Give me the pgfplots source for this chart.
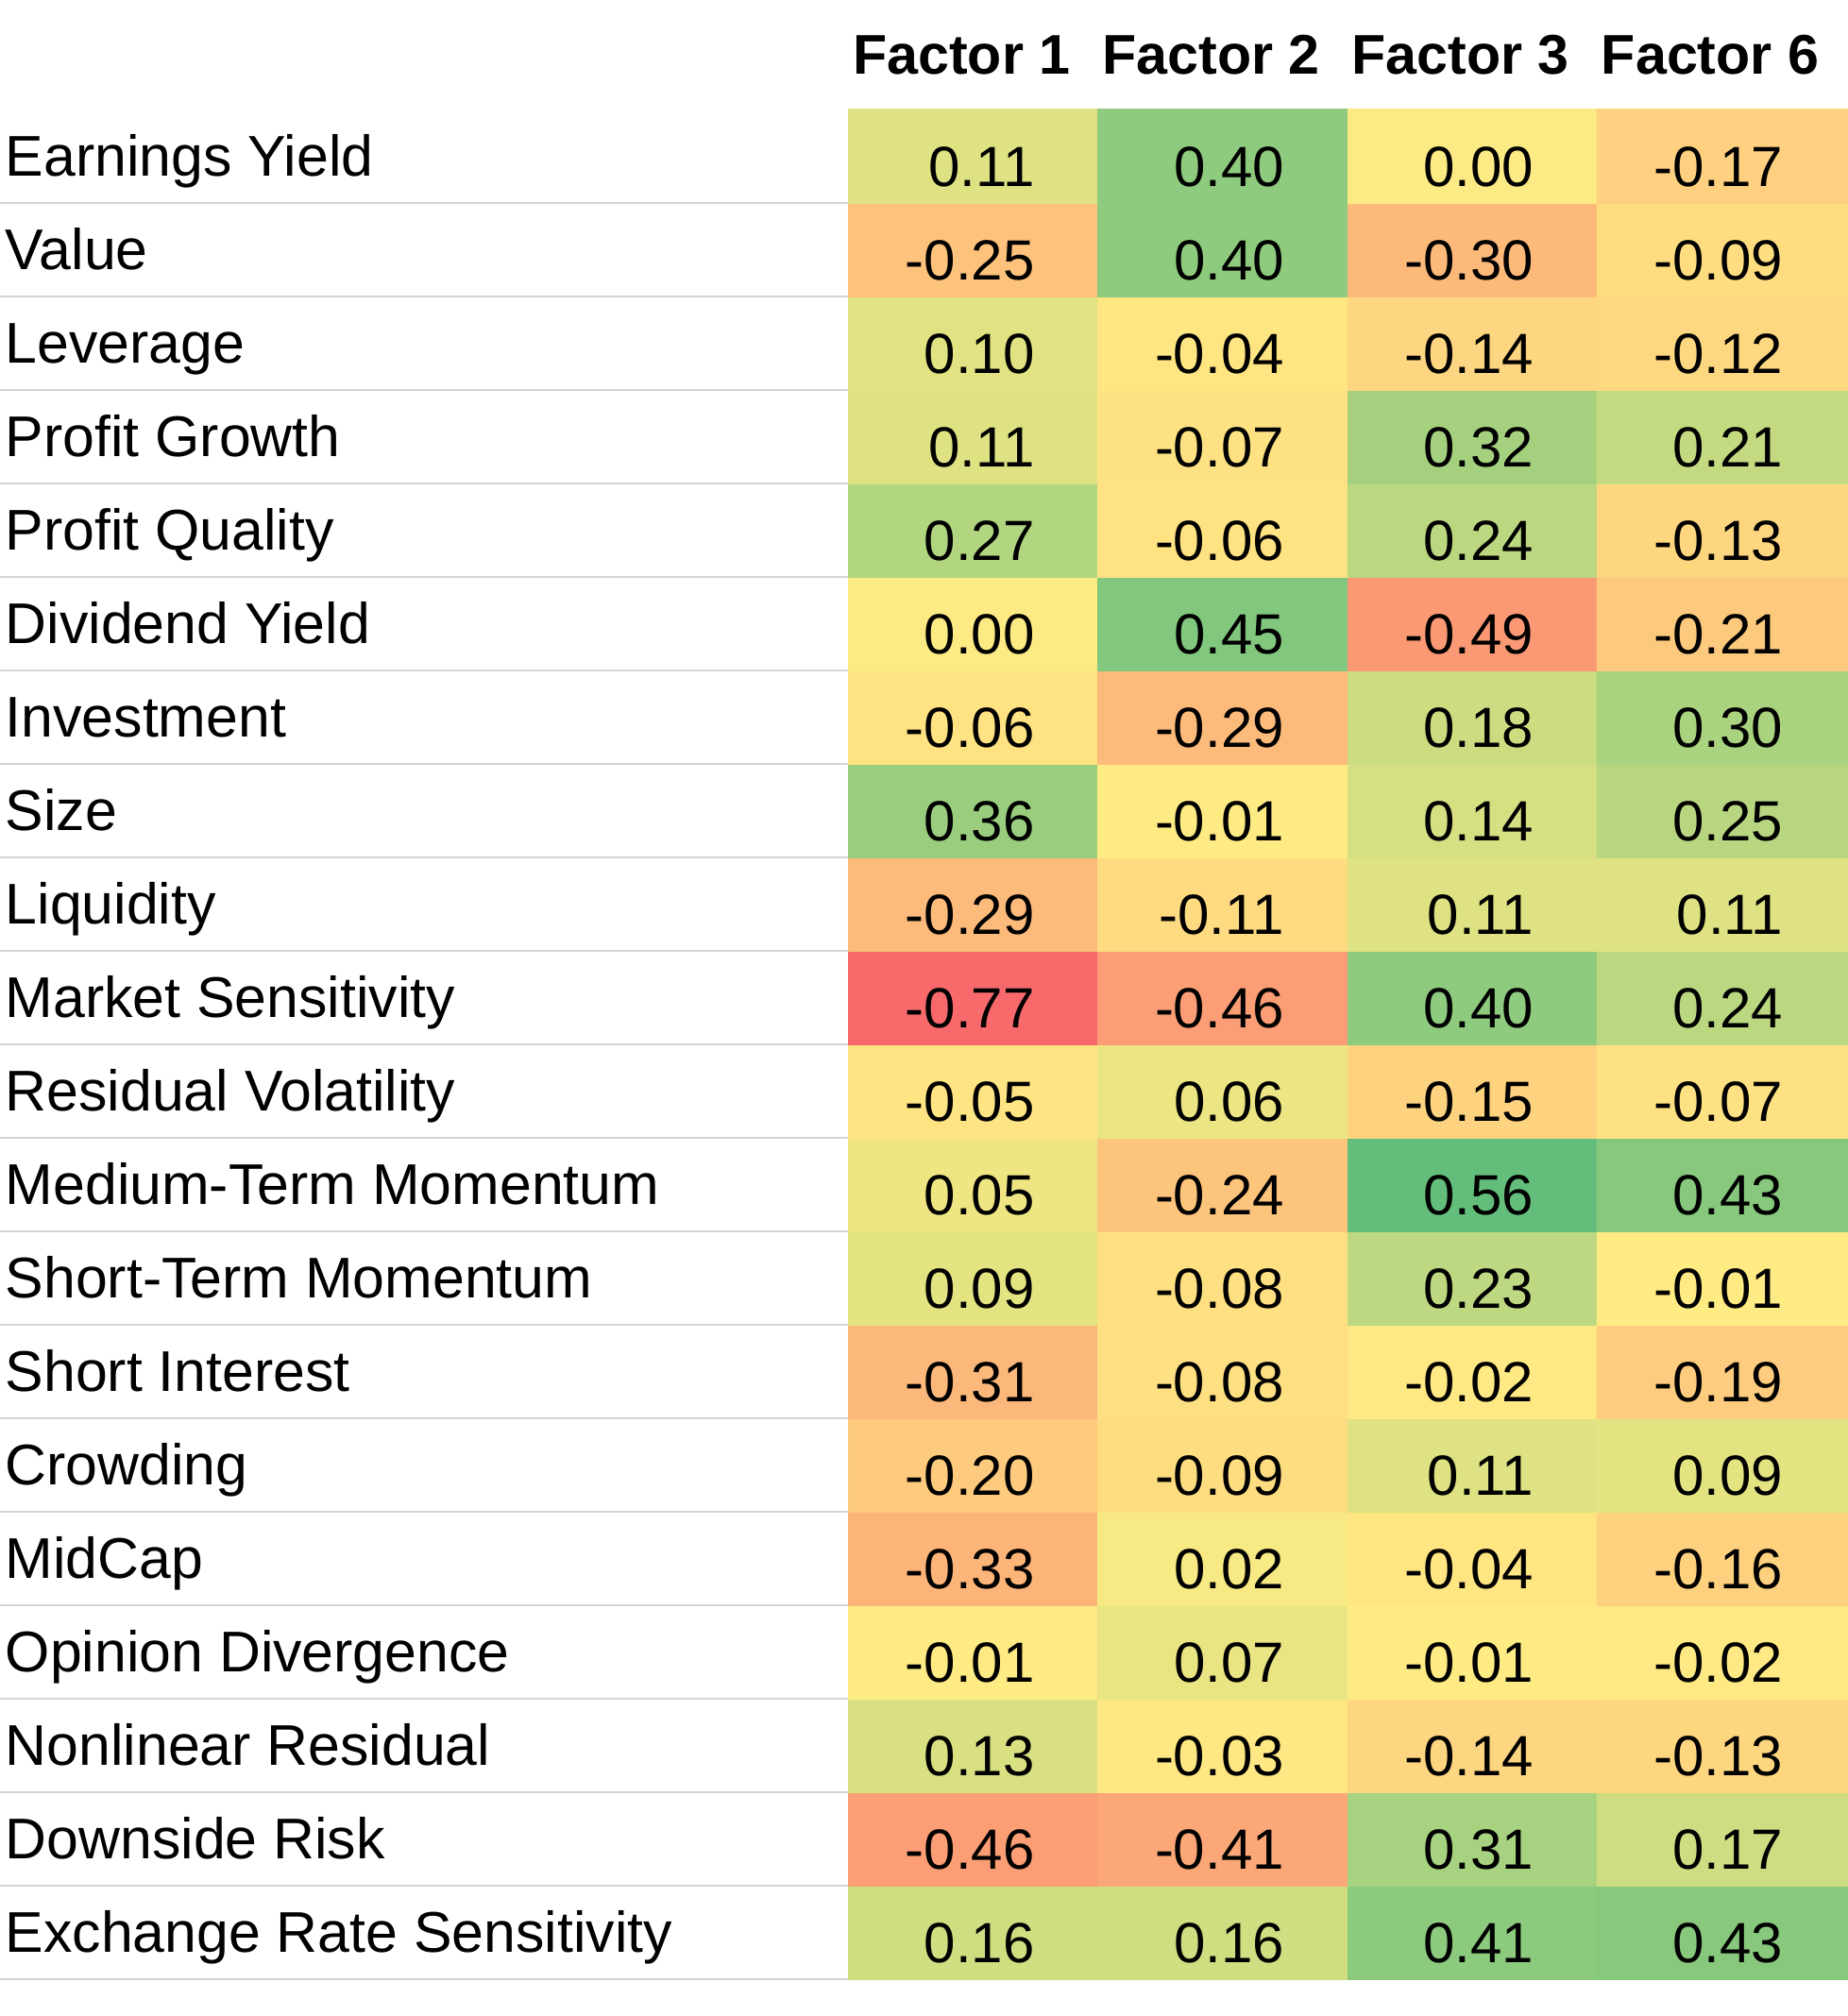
\documentclass[border=0pt]{standalone}
\usepackage{fontspec}
\setmainfont{Liberation Sans}
\usepackage{pgfplots}
\pgfplotsset{compat=1.18}
\usepackage{pgfplotstable}

\pgfplotstableread{
x y c
0 0 0.16
1 0 0.16
2 0 0.41
3 0 0.43
0 1 -0.46
1 1 -0.41
2 1 0.31
3 1 0.17
0 2 0.13
1 2 -0.03
2 2 -0.14
3 2 -0.13
0 3 -0.01
1 3 0.07
2 3 -0.01
3 3 -0.02
0 4 -0.33
1 4 0.02
2 4 -0.04
3 4 -0.16
0 5 -0.20
1 5 -0.09
2 5 0.11
3 5 0.09
0 6 -0.31
1 6 -0.08
2 6 -0.02
3 6 -0.19
0 7 0.09
1 7 -0.08
2 7 0.23
3 7 -0.01
0 8 0.05
1 8 -0.24
2 8 0.56
3 8 0.43
0 9 -0.05
1 9 0.06
2 9 -0.15
3 9 -0.07
0 10 -0.77
1 10 -0.46
2 10 0.40
3 10 0.24
0 11 -0.29
1 11 -0.11
2 11 0.11
3 11 0.11
0 12 0.36
1 12 -0.01
2 12 0.14
3 12 0.25
0 13 -0.06
1 13 -0.29
2 13 0.18
3 13 0.30
0 14 0.00
1 14 0.45
2 14 -0.49
3 14 -0.21
0 15 0.27
1 15 -0.06
2 15 0.24
3 15 -0.13
0 16 0.11
1 16 -0.07
2 16 0.32
3 16 0.21
0 17 0.10
1 17 -0.04
2 17 -0.14
3 17 -0.12
0 18 -0.25
1 18 0.40
2 18 -0.30
3 18 -0.09
0 19 0.11
1 19 0.40
2 19 0.00
3 19 -0.17
}\loadings

\definecolor{rulegray}{RGB}{212,212,212}

\begin{document}
\begin{tikzpicture}
\begin{axis}[
  name=ax,
  scale only axis,
  width=264.25pt, height=495pt,
  xmin=-0.5, xmax=3.5, ymin=-0.5, ymax=19.5,
  axis line style={draw=none},
  major tick length=0pt,
  xtick={0,1,2,3},
  xticklabels={Factor 1,Factor 2,Factor 3,Factor 6},
  xticklabel pos=upper,
  xticklabel style={anchor=base, inner sep=0pt, xshift=-3.2pt, yshift=9.25pt,
    font=\fontsize{14.8}{17}\selectfont\bfseries},
  ytick={0,...,19},
  yticklabels={Exchange Rate Sensitivity,Downside Risk,Nonlinear Residual,Opinion Divergence,MidCap,Crowding,Short Interest,Short-Term Momentum,Medium-Term Momentum,Residual Volatility,Market Sensitivity,Liquidity,Size,Investment,Dividend Yield,Profit Quality,Profit Growth,Leverage,Value,Earnings Yield},
  yticklabel style={anchor=base west, inner sep=0pt, xshift=-223.5pt, yshift=-5.3pt,
    font=\fontsize{15.2}{18}\selectfont},
  colormap={excel}{rgb255(0cm)=(248,105,107); rgb255(7.6cm)=(255,235,132); rgb255(13.3cm)=(99,190,123)},
  point meta min=-0.77, point meta max=0.56,
  clip=false,
]
\pgfplotsinvokeforeach{-0.5,0.5,...,18.5}{
  \draw[rulegray, line width=0.6pt] (axis cs:-0.5,#1) -- ++(-224.75pt,0pt);
}
\addplot[matrix plot*, mesh/cols=4, point meta=explicit,
  nodes near coords={\pgfmathprintnumber[fixed,fixed zerofill,precision=2,assume math mode=true]{\pgfplotspointmeta}},
  every node near coord/.append style={font=\fontsize{15}{17}\selectfont, text=black, anchor=base east, xshift=16.3pt, yshift=-7.9pt, inner sep=0pt},
] table[x=x, y=y, meta=c] {\loadings};
\end{axis}
\pgfresetboundingbox
\useasboundingbox ([xshift=-224.75pt,yshift=-9.75pt]ax.south west) rectangle ([yshift=29pt]ax.north east);
\end{tikzpicture}
\end{document}
